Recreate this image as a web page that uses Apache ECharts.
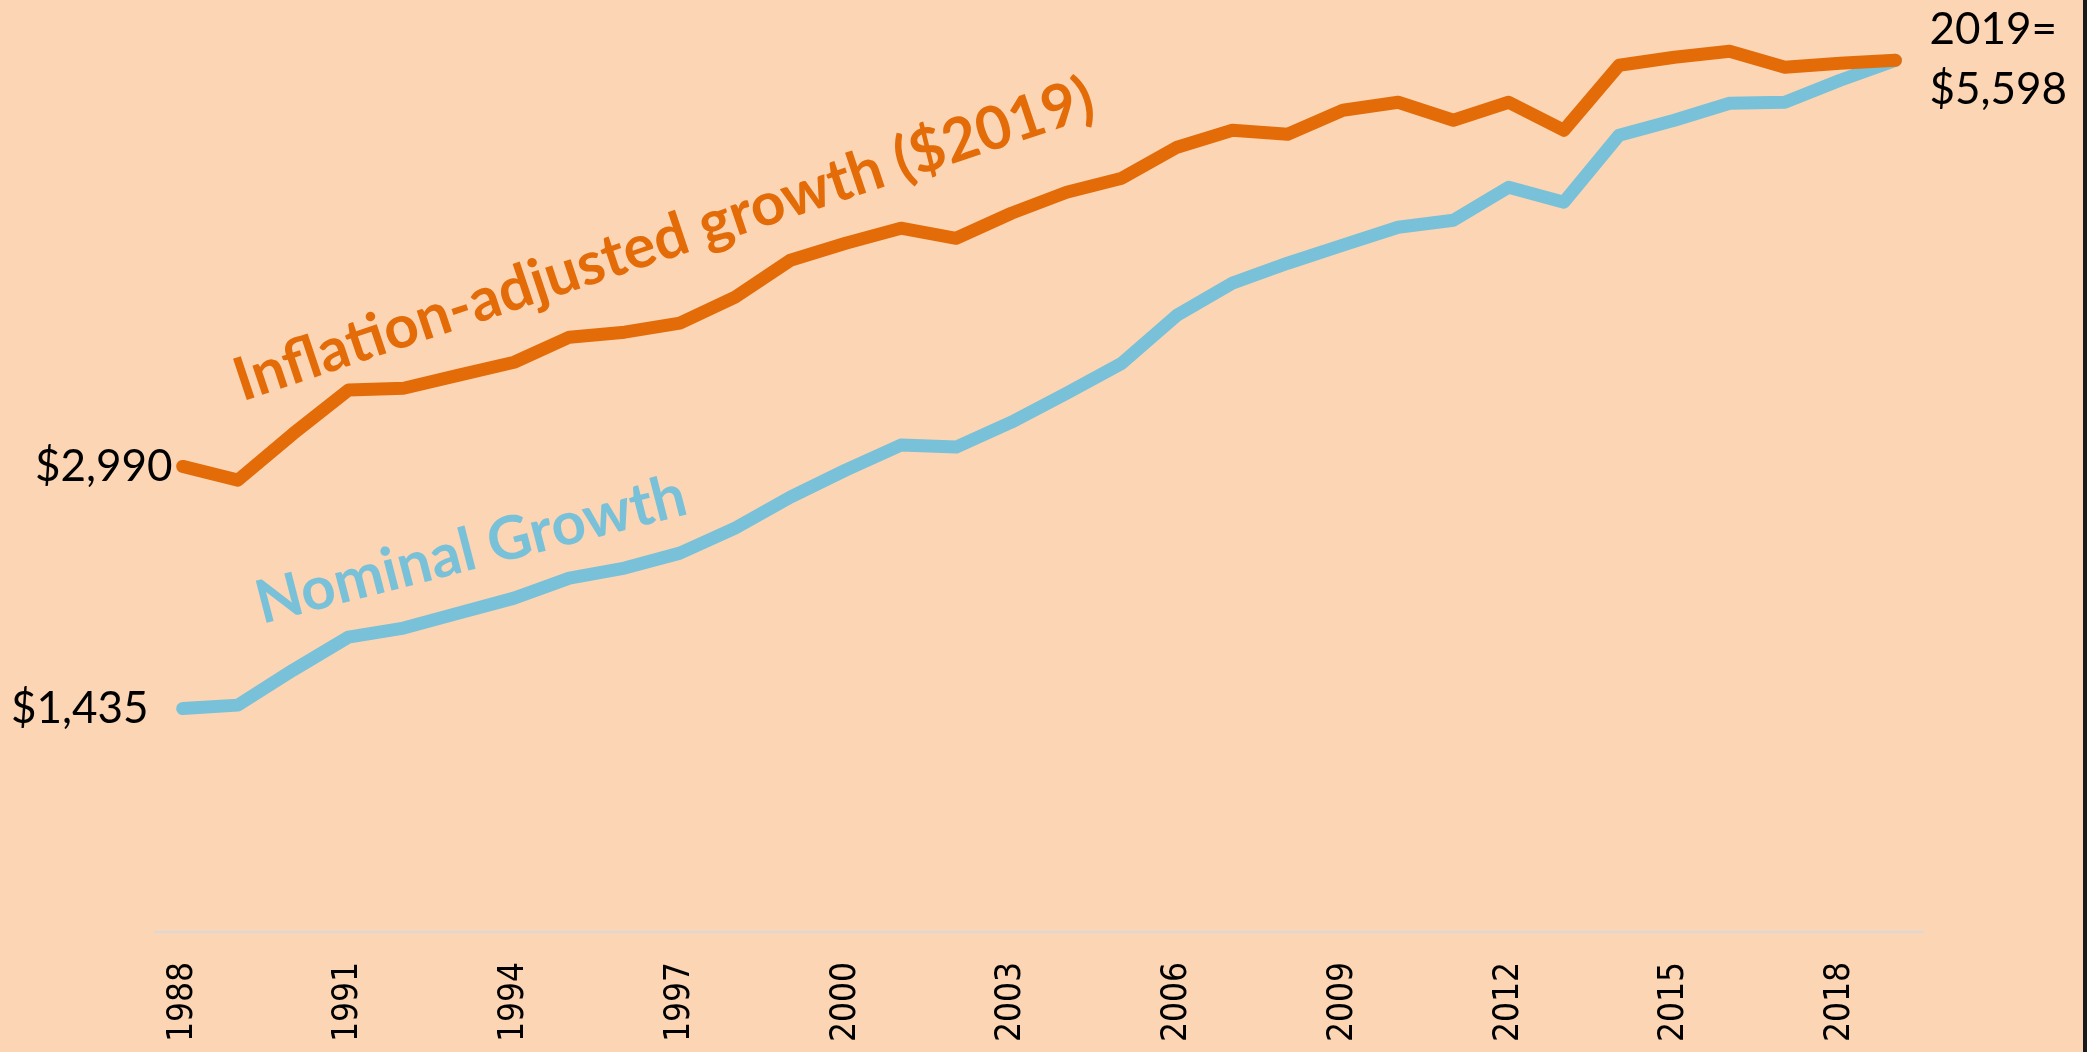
<!DOCTYPE html>
<html>
<head>
<meta charset="utf-8">
<script src="https://cdn.jsdelivr.net/npm/echarts@6/dist/echarts.min.js"></script>
<style>
  html, body { margin: 0; padding: 0; background: #FCD5B4; }
  #main { width: 2087px; height: 1052px; }
</style>
</head>
<body>
<div id="main"></div>
<script>
// years on the x axis
const years = ['1988', '1989', '1990', '1991', '1992', '1993', '1994', '1995', '1996', '1997',
  '1998', '1999', '2000', '2001', '2002', '2003', '2004', '2005', '2006', '2007',
  '2008', '2009', '2010', '2011', '2012', '2013', '2014', '2015', '2016', '2017',
  '2018', '2019'];

// inflation-adjusted ($2019)
const realValues = [2990, 2902, 3200, 3480, 3492, 3576, 3659, 3820, 3852, 3910,
  4077, 4314, 4423, 4520, 4455, 4616, 4751, 4841, 5040, 5149,
  5123, 5277, 5329, 5213, 5329, 5149, 5566, 5618, 5656, 5553,
  5579, 5598];

// nominal
const nominalValues = [1435, 1457, 1682, 1894, 1952, 2048, 2144, 2273, 2337, 2433,
  2594, 2793, 2966, 3127, 3114, 3274, 3460, 3653, 3961, 4167,
  4295, 4411, 4526, 4571, 4783, 4687, 5117, 5213, 5322, 5329,
  5470, 5598];

const orange = '#E36C09';
const blue = '#78C1D8';
const textFont = 'Lato, "Noto Sans", sans-serif';

const money = v => '$' + v.toLocaleString('en-US');

// first point gets its value written on the left
function withStartLabel(values, dist) {
  return values.map((v, i) => i === 0 ? {
    value: v,
    label: {
      show: true, position: 'left', distance: dist,
      formatter: p => money(p.value),
      color: '#000', fontSize: 44, fontFamily: textFont
    }
  } : v);
}

const chart = echarts.init(document.getElementById('main'));

const option = {
  backgroundColor: '#FCD5B4',
  animation: false,
  grid: { left: 155, right: 164, top: 60, bottom: 120, outerBoundsMode: 'none' },
  xAxis: {
    type: 'category',
    data: years,
    boundaryGap: true,
    axisLine: { lineStyle: { color: '#D9D9D9', width: 2 } },
    axisTick: { show: false },
    axisLabel: {
      interval: 2,
      rotate: 90,
      margin: 30,
      color: '#000',
      fontSize: 35,
      fontFamily: '"DejaVu Sans Condensed", "DejaVu Sans", sans-serif'
    }
  },
  yAxis: {
    type: 'value',
    min: 0,
    max: 5600,
    show: false,
    splitLine: { show: false }
  },
  series: [
    {
      name: 'Nominal Growth',
      type: 'line',
      data: withStartLabel(nominalValues, 34),
      symbol: 'circle',
      symbolSize: 0,
      clip: false,
      lineStyle: { color: blue, width: 13, cap: 'round', join: 'round' },
      itemStyle: { color: blue },
      emphasis: { disabled: true }
    },
    {
      name: 'Inflation-adjusted growth ($2019)',
      type: 'line',
      data: withStartLabel(realValues, 10),
      symbol: 'circle',
      symbolSize: 0,
      clip: false,
      lineStyle: { color: orange, width: 13, cap: 'round', join: 'round' },
      itemStyle: { color: orange },
      emphasis: { disabled: true },
      endLabel: {
        show: true,
        distance: 34,
        color: '#000',
        fontSize: 44,
        lineHeight: 60,
        fontFamily: textFont,
        formatter: p => years[years.length - 1] + '=\n' + money(p.value)
      }
    }
  ],
  graphic: [
    {
      type: 'text',
      x: 664, y: 240,
      rotation: 18.5 * Math.PI / 180,
      style: {
        text: 'Inflation-adjusted growth ($2019)',
        fill: orange, fontSize: 60, fontWeight: 'bold', fontFamily: textFont,
        align: 'center', verticalAlign: 'middle'
      }
    },
    {
      type: 'text',
      x: 471, y: 550,
      rotation: 14.5 * Math.PI / 180,
      style: {
        text: 'Nominal Growth',
        fill: blue, fontSize: 60, fontWeight: 'bold', fontFamily: textFont,
        align: 'center', verticalAlign: 'middle'
      }
    },
    {
      type: 'rect',
      shape: { x: 2083, y: 0, width: 4, height: 1052 },
      style: { fill: '#1a1a1a' }
    }
  ]
};

option && chart.setOption(option);
</script>
</body>
</html>
